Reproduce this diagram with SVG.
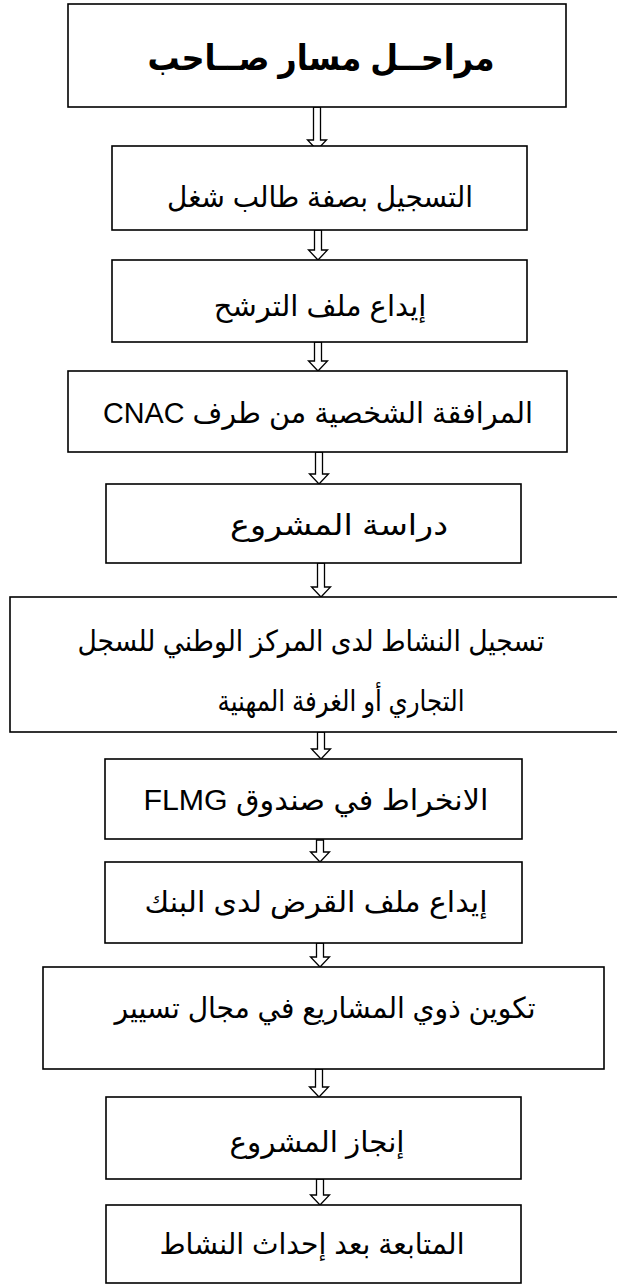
<svg xmlns="http://www.w3.org/2000/svg" width="617" height="1286" viewBox="0 0 617 1286">
<style>
.box{fill:#fff;stroke:#000;stroke-width:1.6}
.arr{fill:#fff;stroke:#000;stroke-width:1.3;stroke-linejoin:miter}
text{font-family:"Liberation Sans","DejaVu Sans",sans-serif;font-size:29px;fill:#000;text-anchor:middle;direction:rtl}
.title{font-size:35px;font-weight:bold}
</style>
<rect width="617" height="1286" fill="#fff"/>
<g id="connectors">
<polygon class="arr" points="313.5,107 320.5,107 320.5,140 326.5,140 317,150 307.5,140 313.5,140"/>
<polygon class="arr" points="314.5,230 321.5,230 321.5,250 327.5,250 318,260 308.5,250 314.5,250"/>
<polygon class="arr" points="314.5,342 321.5,342 321.5,361 327.5,361 318,371 308.5,361 314.5,361"/>
<polygon class="arr" points="315.5,452 322.5,452 322.5,474 328.5,474 319,484 309.5,474 315.5,474"/>
<polygon class="arr" points="317.5,563 324.5,563 324.5,587 330.5,587 321,597 311.5,587 317.5,587"/>
<polygon class="arr" points="317.5,732 324.5,732 324.5,749 330.5,749 321,759 311.5,749 317.5,749"/>
<polygon class="arr" points="316.5,840 323.5,840 323.5,852 329.5,852 320,862 310.5,852 316.5,852"/>
<polygon class="arr" points="316.5,943 323.5,943 323.5,957 329.5,957 320,967 310.5,957 316.5,957"/>
<polygon class="arr" points="315.5,1069 322.5,1069 322.5,1087 328.5,1087 319,1097 309.5,1087 315.5,1087"/>
<polygon class="arr" points="316.5,1179 323.5,1179 323.5,1195 329.5,1195 320,1205 310.5,1195 316.5,1195"/>
</g>
<g id="n1"><rect class="box" x="68" y="4" width="498" height="103"/><text class="title" x="321" y="70" textLength="347" lengthAdjust="spacingAndGlyphs">مراحــل مسار صــاحب</text></g>
<g id="n2"><rect class="box" x="112" y="146" width="415" height="84"/><text x="320" y="207" textLength="306" lengthAdjust="spacingAndGlyphs">التسجيل بصفة طالب شغل</text></g>
<g id="n3"><rect class="box" x="112" y="260" width="415" height="82"/><text x="320" y="316">إيداع ملف الترشح</text></g>
<g id="n4"><rect class="box" x="68" y="371" width="499" height="81"/><text x="318" y="423" textLength="430" lengthAdjust="spacingAndGlyphs">المرافقة الشخصية من طرف CNAC</text></g>
<g id="n5"><rect class="box" x="106" y="484" width="415" height="79"/><text x="339" y="535" textLength="218" lengthAdjust="spacingAndGlyphs">دراسة المشروع</text></g>
<g id="n6"><rect class="box" x="10" y="597" width="630" height="135"/><text x="311" y="651" textLength="467" lengthAdjust="spacingAndGlyphs">تسجيل النشاط لدى المركز الوطني للسجل</text><text x="341" y="711" textLength="247" lengthAdjust="spacingAndGlyphs">التجاري أو الغرفة المهنية</text></g>
<g id="n7"><rect class="box" x="105" y="759" width="417" height="80"/><text x="316" y="810" textLength="345" lengthAdjust="spacingAndGlyphs">الانخراط في صندوق FLMG</text></g>
<g id="n8"><rect class="box" x="105" y="862" width="417" height="81"/><text x="316" y="912" textLength="343" lengthAdjust="spacingAndGlyphs">إيداع ملف القرض لدى البنك</text></g>
<g id="n9"><rect class="box" x="43" y="967" width="561" height="102"/><text x="325" y="1018" textLength="421" lengthAdjust="spacingAndGlyphs">تكوين ذوي المشاريع في مجال تسيير</text></g>
<g id="n10"><rect class="box" x="106" y="1097" width="415" height="82"/><text x="317" y="1152" textLength="175" lengthAdjust="spacingAndGlyphs">إنجاز المشروع</text></g>
<g id="n11"><rect class="box" x="106" y="1205" width="415" height="78"/><text x="312" y="1254" textLength="305" lengthAdjust="spacingAndGlyphs">المتابعة بعد إحداث النشاط</text></g>
</svg>
